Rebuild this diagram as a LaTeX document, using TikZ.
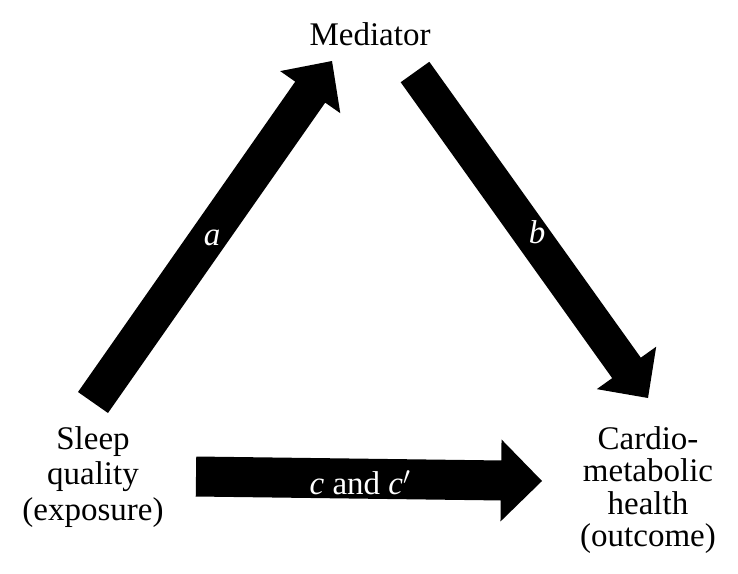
\documentclass[tikz,border=0pt]{standalone}
\usepackage{fontspec}
\setmainfont{Liberation Serif}
\usetikzlibrary{calc}
\tikzset{
  lbl/.style={font=\fontsize{33}{34}\selectfont, inner sep=0pt, align=center, text=black},
  arrlbl/.style={font=\fontsize{33}{34}\selectfont\itshape, inner sep=0pt, text=white},
  blockarrow/.style={fill=black, draw=none}
}
\newcommand{\blockarrow}[5]{%
  % #1 tail, #2 tip, #3 shaft half width, #4 head half width, #5 head length
  \coordinate (#1-#2-h) at ($(#2)!#5!(#1)$);
  \fill[blockarrow]
    ($(#1)!#3!90:(#2)$) -- ($(#1-#2-h)!#3!-90:(#1)$) -- ($(#1-#2-h)!#4!-90:(#1)$)
    -- (#2) -- ($(#1-#2-h)!#4!90:(#1)$) -- ($(#1-#2-h)!#3!90:(#1)$)
    -- ($(#1)!#3!-90:(#2)$) -- cycle;
}
\begin{document}
\begin{tikzpicture}[x=1pt,y=-1pt]
  \useasboundingbox[fill=white] (0,0) rectangle (738,573);
  % text nodes
  \node[lbl, anchor=base] (med) at (370,45) {Mediator};
  \node[lbl, font=\fontsize{33}{35.5}\selectfont, anchor=north] (sleep) at (93,426) {Sleep\\quality\\(exposure)};
  \node[lbl, font=\fontsize{33}{32.5}\selectfont, anchor=north] (cardio) at (648,426) {Cardio-\\metabolic\\health\\(outcome)};
  % arrow endpoints
  \coordinate (aT) at (93,402.5);
  \coordinate (aP) at (332,61);
  \coordinate (bT) at (415,72);
  \coordinate (bP) at (648,398);
  \coordinate (cT) at (196,476.5);
  \coordinate (cP) at (542,481);
  \blockarrow{aT}{aP}{18.3pt}{36.7pt}{38pt}
  \blockarrow{bT}{bP}{17.6pt}{36.5pt}{37pt}
  \blockarrow{cT}{cP}{20pt}{41pt}{41pt}
  % labels
  \node[arrlbl] (la) at (212,238) {a};
  \node[arrlbl] (lb) at (537,232) {b};
  \node[arrlbl, font=\fontsize{33}{34}\selectfont, anchor=base] (lc) at (360,494) {\textit{c} and \textit{c}$'$};
\end{tikzpicture}
\end{document}
